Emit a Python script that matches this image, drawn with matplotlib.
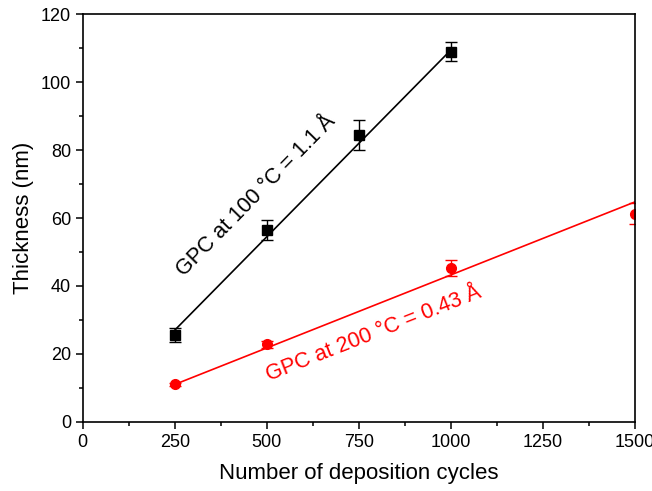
import numpy as np
import matplotlib.pyplot as plt
from matplotlib.ticker import MultipleLocator

plt.rcParams['font.family'] = ['Liberation Sans', 'DejaVu Sans']

# 100 °C series
cycles_100 = [250, 500, 750, 1000]
thick_100 = [25.5, 56.5, 84.5, 109.0]
err_100 = [2.0, 3.0, 4.4, 2.8]
gpc_100 = 0.11      # nm / cycle
icpt_100 = -0.5

# 200 °C series
cycles_200 = [250, 500, 1000, 1500]
thick_200 = [11.0, 22.8, 45.2, 61.3]
err_200 = [0.5, 1.0, 2.3, 3.1]
gpc_200 = 0.043
icpt_200 = 0.25

fig = plt.figure(figsize=(6.52, 4.91), dpi=100)
ax = fig.add_axes([0.127, 0.141, 0.847, 0.830])

ax.errorbar(cycles_100, thick_100, yerr=err_100, fmt='s', color='black',
            ms=6.5, capsize=4, elinewidth=1, capthick=1)
xf = np.array([cycles_100[0], cycles_100[-1]])
ax.plot(xf, gpc_100 * xf + icpt_100, color='black', lw=1.2)

ax.errorbar(cycles_200, thick_200, yerr=err_200, fmt='o', color='red',
            ms=7, capsize=4, elinewidth=1, capthick=1)
xf = np.array([cycles_200[0], cycles_200[-1]])
ax.plot(xf, gpc_200 * xf + icpt_200, color='red', lw=1.2)

ax.text(470, 66.5, 'GPC at 100 °C = 1.1 Å', rotation=45.5, fontsize=15.5,
        ha='center', va='center', rotation_mode='anchor')
ax.text(790, 26, 'GPC at 200 °C = 0.43 Å', rotation=21.5, fontsize=15.5,
        color='red', ha='center', va='center', rotation_mode='anchor')

ax.set_xlim(0, 1500)
ax.set_ylim(0, 120)
ax.xaxis.set_major_locator(MultipleLocator(250))
ax.xaxis.set_minor_locator(MultipleLocator(125))
ax.yaxis.set_major_locator(MultipleLocator(20))
ax.yaxis.set_minor_locator(MultipleLocator(10))
ax.tick_params(which='both', direction='out', width=1.1, labelsize=13)
ax.tick_params(which='major', length=5)
ax.tick_params(which='minor', length=3)
for s in ax.spines.values():
    s.set_linewidth(1.2)
ax.set_xlabel('Number of deposition cycles', fontsize=16, labelpad=9)
ax.set_ylabel('Thickness (nm)', fontsize=16, labelpad=5)

fig.savefig('out.png', dpi=100)
